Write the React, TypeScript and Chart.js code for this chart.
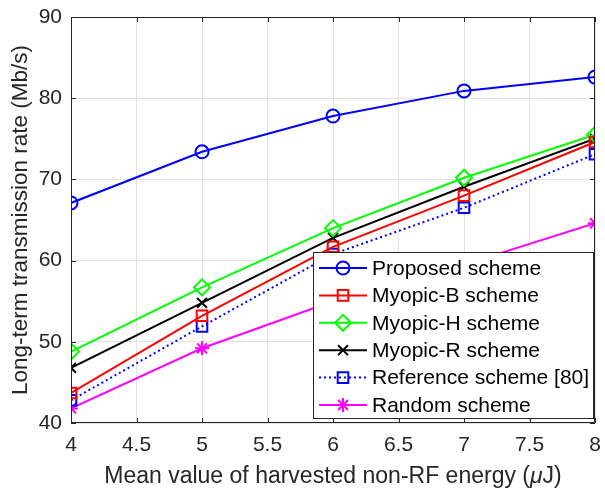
import React, { useEffect, useRef } from "react";
import { Chart, registerables } from "chart.js";
import { drawPoint } from "chart.js/helpers";

Chart.register(...registerables);

// Mean harvested non-RF energy (μJ)
const energy = [4, 5, 6, 7, 8];

// Long-term transmission rate (Mb/s) per scheme
const proposed = [67.1, 73.4, 77.8, 80.9, 82.6];
const myopicB = [43.7, 53.2, 61.7, 68.0, 74.6];
const myopicH = [48.8, 56.7, 64.0, 70.2, 75.5];
const myopicR = [46.8, 54.8, 62.8, 69.1, 75.0];
const referenceScheme = [42.8, 51.9, 60.8, 66.5, 73.1];
const randomScheme = [41.8, 49.2, 55.0, 59.5, 64.6];

const seriesLabels = [
  "Proposed scheme",
  "Myopic-B scheme",
  "Myopic-H scheme",
  "Myopic-R scheme",
  "Reference scheme [80]",
  "Random scheme",
];

const xTicks = [4, 4.5, 5, 5.5, 6, 6.5, 7, 7.5, 8];
const yTicks = [40, 50, 60, 70, 80, 90];

const FONT = "'Liberation Sans', Arial, Helvetica, sans-serif";
const AXIS_COLOR = "#262626";

const CHART_LEFT = 71;
const CHART_TOP = 17;
const CHART_RIGHT = 598;
const CHART_BOTTOM = 423;
const W = 605;
const H = 489;

const toPoints = (ys: number[]) => energy.map((x, i) => ({ x, y: ys[i] }));

const noScalePadding = (s: any) => {
  s.paddingLeft = 0;
  s.paddingRight = 0;
  s.paddingTop = 0;
  s.paddingBottom = 0;
};

// Draws the axes box with inward tick marks, the x-axis title with an italic μ,
// and a boxed legend in the lower right of the plot area.
const frameAndLegend = {
  id: "frameAndLegend",
  afterDatasetsDraw(chart: any) {
    const { ctx, chartArea, scales } = chart;
    const { left, top, right, bottom } = chartArea;
    const xs = scales.x;
    const ys = scales.y;
    ctx.save();

    // axes box
    ctx.strokeStyle = AXIS_COLOR;
    ctx.lineWidth = 1;
    ctx.beginPath();
    ctx.rect(left + 0.5, top + 0.5, right - left - 1, bottom - top - 1);
    ctx.stroke();

    // inward ticks
    const tl = 5;
    ctx.beginPath();
    xTicks.forEach((v) => {
      const px = Math.round(xs.getPixelForValue(v)) + 0.5;
      ctx.moveTo(px, bottom);
      ctx.lineTo(px, bottom - tl);
      ctx.moveTo(px, top);
      ctx.lineTo(px, top + tl);
    });
    yTicks.forEach((v) => {
      const py = Math.round(ys.getPixelForValue(v)) + 0.5;
      ctx.moveTo(left, py);
      ctx.lineTo(left + tl, py);
      ctx.moveTo(right, py);
      ctx.lineTo(right - tl, py);
    });
    ctx.stroke();

    // x-axis title with italic mu
    const titleSize = 23;
    const normal = `${titleSize}px ${FONT}`;
    const italic = `italic ${titleSize}px ${FONT}`;
    const parts: [string, string][] = [
      ["Mean value of harvested non-RF energy (", normal],
      ["\u03bc", italic],
      ["J)", normal],
    ];
    let total = 0;
    parts.forEach(([t, f]) => {
      ctx.font = f;
      total += ctx.measureText(t).width;
    });
    let tx = (left + right) / 2 - total / 2;
    const ty = 483;
    ctx.fillStyle = AXIS_COLOR;
    ctx.textBaseline = "alphabetic";
    ctx.textAlign = "left";
    parts.forEach(([t, f]) => {
      ctx.font = f;
      ctx.fillText(t, tx, ty);
      tx += ctx.measureText(t).width;
    });

    // legend
    const lx0 = 313;
    const ly0 = 252;
    const lx1 = 594;
    const ly1 = 419;
    ctx.fillStyle = "#ffffff";
    ctx.fillRect(lx0, ly0, lx1 - lx0, ly1 - ly0);
    ctx.strokeStyle = AXIS_COLOR;
    ctx.lineWidth = 1;
    ctx.strokeRect(lx0 + 0.5, ly0 + 0.5, lx1 - lx0 - 1, ly1 - ly0 - 1);

    const rowH = 27.4;
    const firstRow = 268;
    ctx.font = `21px ${FONT}`;
    ctx.textBaseline = "middle";
    chart.data.datasets.forEach((ds: any, i: number) => {
      const y = firstRow + i * rowH;
      ctx.strokeStyle = ds.borderColor;
      ctx.lineWidth = ds.borderWidth;
      ctx.setLineDash(ds.borderDash || []);
      ctx.beginPath();
      ctx.moveTo(319, y);
      ctx.lineTo(367, y);
      ctx.stroke();
      ctx.setLineDash([]);
      ctx.strokeStyle = ds.pointBorderColor;
      ctx.fillStyle = "rgba(0,0,0,0)";
      drawPoint(
        ctx,
        {
          pointStyle: ds.pointStyle,
          radius: ds.pointRadius,
          rotation: 0,
          borderWidth: ds.pointBorderWidth,
        } as any,
        343,
        y
      );
      ctx.fillStyle = "#000000";
      ctx.fillText(ds.label, 372, y + 1);
    });

    ctx.restore();
  },
};

export default function App() {
  const canvasRef = useRef<HTMLCanvasElement | null>(null);

  useEffect(() => {
    if (!canvasRef.current) return;
    const mk = (
      i: number,
      data: number[],
      color: string,
      pointStyle: string,
      radius: number,
      dash?: number[]
    ) => ({
      label: seriesLabels[i],
      data: toPoints(data),
      borderColor: color,
      backgroundColor: "rgba(0,0,0,0)",
      pointBorderColor: color,
      pointBackgroundColor: "rgba(0,0,0,0)",
      borderWidth: 2,
      pointBorderWidth: 2,
      pointStyle,
      pointRadius: radius,
      borderDash: dash || [],
      tension: 0,
    });

    const chart = new Chart(canvasRef.current, {
      type: "line",
      data: {
        datasets: [
          mk(0, proposed, "#0000ff", "circle", 6.5),
          mk(1, myopicB, "#ff0000", "rect", 7.5),
          mk(2, myopicH, "#00ff00", "rectRot", 8),
          mk(3, myopicR, "#000000", "crossRot", 7),
          mk(4, referenceScheme, "#0000ff", "rect", 7.5, [2, 3]),
          mk(5, randomScheme, "#ff00ff", "star", 7),
        ] as any,
      },
      options: {
        animation: false,
        responsive: false,
        maintainAspectRatio: false,
        layout: {
          padding: { left: 0, top: CHART_TOP, right: W - CHART_RIGHT, bottom: 0 },
        },
        plugins: {
          legend: { display: false },
          tooltip: { enabled: false },
        },
        scales: {
          x: {
            type: "linear",
            min: 4,
            max: 8,
            afterBuildTicks: (s: any) => {
              s.ticks = xTicks.map((v) => ({ value: v }));
            },
            afterFit: (s: any) => {
              s.height = H - CHART_BOTTOM;
              noScalePadding(s);
            },
            ticks: {
              font: { family: FONT, size: 21 },
              color: AXIS_COLOR,
              padding: 10,
              maxRotation: 0,
              autoSkip: false,
              callback: (v: any) => String(v),
            },
            grid: { color: "#e3e3e3", drawTicks: false, lineWidth: 1 },
            border: { display: false },
          },
          y: {
            type: "linear",
            min: 40,
            max: 90,
            afterBuildTicks: (s: any) => {
              s.ticks = yTicks.map((v) => ({ value: v }));
            },
            afterFit: (s: any) => {
              s.width = CHART_LEFT;
              noScalePadding(s);
            },
            ticks: {
              font: { family: FONT, size: 21 },
              color: AXIS_COLOR,
              padding: 9,
              callback: (v: any) => String(v),
            },
            title: {
              display: true,
              text: "Long-term transmission rate (Mb/s)",
              font: { family: FONT, size: 22.5 },
              color: AXIS_COLOR,
              padding: { top: 7, bottom: 4 },
            },
            grid: { color: "#e3e3e3", drawTicks: false, lineWidth: 1 },
            border: { display: false },
          },
        },
      } as any,
      plugins: [frameAndLegend],
    });
    return () => chart.destroy();
  }, []);

  return (
    <div style={{ position: "absolute", left: 0, top: 0, width: W, height: H, background: "#fff" }}>
      <canvas ref={canvasRef} width={W} height={H} style={{ width: W, height: H }} />
    </div>
  );
}
